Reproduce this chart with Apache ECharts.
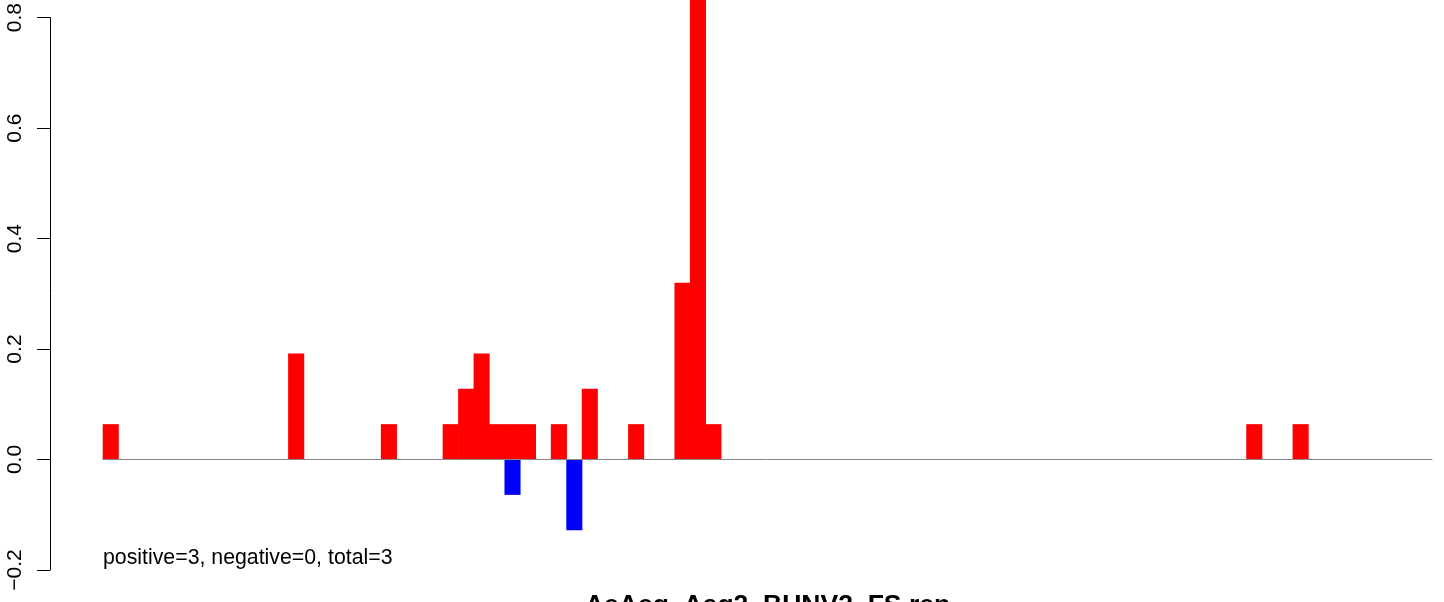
<!DOCTYPE html>
<html>
<head>
<meta charset="utf-8">
<script src="https://cdn.jsdelivr.net/npm/echarts@6/dist/echarts.min.js"></script>
<style>html,body{margin:0;padding:0;background:#fff}#c{width:1444px;height:602px}</style>
</head>
<body>
<div id="c"></div>
<script>
// positions along the sequence (86 slots)
const categories = [
  1,2,3,4,5,6,7,8,9,10,11,12,13,14,15,16,17,18,19,20,
  21,22,23,24,25,26,27,28,29,30,31,32,33,34,35,36,37,38,39,40,
  41,42,43,44,45,46,47,48,49,50,51,52,53,54,55,56,57,58,59,60,
  61,62,63,64,65,66,67,68,69,70,71,72,73,74,75,76,77,78,79,80,
  81,82,83,84,85,86
];
// positive-strand values (red)
const positiveValues = [
  0.064,0,0,0,0,0,0,0,0,0,0,0,0.192,0,0,0,0,0,0.064,0,
  0,0,0.064,0.128,0.192,0.064,0.064,0.064,0,0.064,0,0.128,0,0,0.064,0,0,0.32,1.0,0.064,
  0,0,0,0,0,0,0,0,0,0,0,0,0,0,0,0,0,0,0,0,
  0,0,0,0,0,0,0,0,0,0,0,0,0,0,0.064,0,0,0.064,0,0,
  0,0,0,0,0,0
];
// negative-strand values (blue)
const negativeValues = [
  0,0,0,0,0,0,0,0,0,0,0,0,0,0,0,0,0,0,0,0,
  0,0,0,0,0,0,-0.064,0,0,0,-0.128,0,0,0,0,0,0,0,0,0,
  0,0,0,0,0,0,0,0,0,0,0,0,0,0,0,0,0,0,0,0,
  0,0,0,0,0,0,0,0,0,0,0,0,0,0,0,0,0,0,0,0,
  0,0,0,0,0,0
];
const yTicks = [-0.2, 0.0, 0.2, 0.4, 0.6, 0.8];
const titleText = 'AeAeg_Aag2_BUNV2_FS.rep';
const noteText = 'positive=3, negative=0, total=3';

const FONT = 'Liberation Sans, Arial, Helvetica, sans-serif';
const toBars = arr => arr.map(v => (v === 0 ? '-' : v));

const chart = echarts.init(document.getElementById('c'), null, {renderer: 'canvas'});
chart.setOption({
  animation: false,
  backgroundColor: '#ffffff',
  grid: {left: 103, right: 12, top: 16.5, bottom: 32, containLabel: false},
  xAxis: {
    type: 'category',
    data: categories,
    boundaryGap: true,
    axisLine: {show: true, onZero: true, lineStyle: {color: '#888888', width: 1}},
    axisTick: {show: false},
    axisLabel: {show: false},
    splitLine: {show: false},
    z: 3
  },
  yAxis: {
    type: 'value',
    min: yTicks[0],
    max: yTicks[yTicks.length - 1],
    interval: 0.2,
    offset: 53,
    axisLine: {show: true, lineStyle: {color: '#000', width: 1}},
    axisTick: {show: true, length: 13, lineStyle: {color: '#000', width: 1}},
    splitLine: {show: false},
    axisLabel: {
      rotate: 90,
      margin: 24,
      color: '#000',
      fontFamily: FONT,
      fontSize: 21,
      formatter: function (v) {
        const s = (Math.round(v * 10) / 10).toFixed(1);
        return s.replace('-', '\u2212');
      }
    }
  },
  series: [
    {
      type: 'bar',
      data: toBars(positiveValues),
      clip: false,
      barWidth: '104%',
      barGap: '-100%',
      itemStyle: {color: '#ff0000'},
      emphasis: {disabled: true},
      z: 2
    },
    {
      type: 'bar',
      data: toBars(negativeValues),
      clip: false,
      barWidth: '104%',
      barGap: '-100%',
      itemStyle: {color: '#0000ff'},
      emphasis: {disabled: true},
      z: 2
    }
  ],
  graphic: [
    {
      type: 'text',
      left: 103,
      top: 548,
      style: {text: noteText, fill: '#000', font: '21.3px ' + FONT}
    },
    {
      type: 'text',
      x: 767.5,
      y: 592,
      style: {text: titleText, fill: '#000', font: 'bold 26.5px ' + FONT, textAlign: 'center', textVerticalAlign: 'top'}
    }
  ]
});
</script>
</body>
</html>
